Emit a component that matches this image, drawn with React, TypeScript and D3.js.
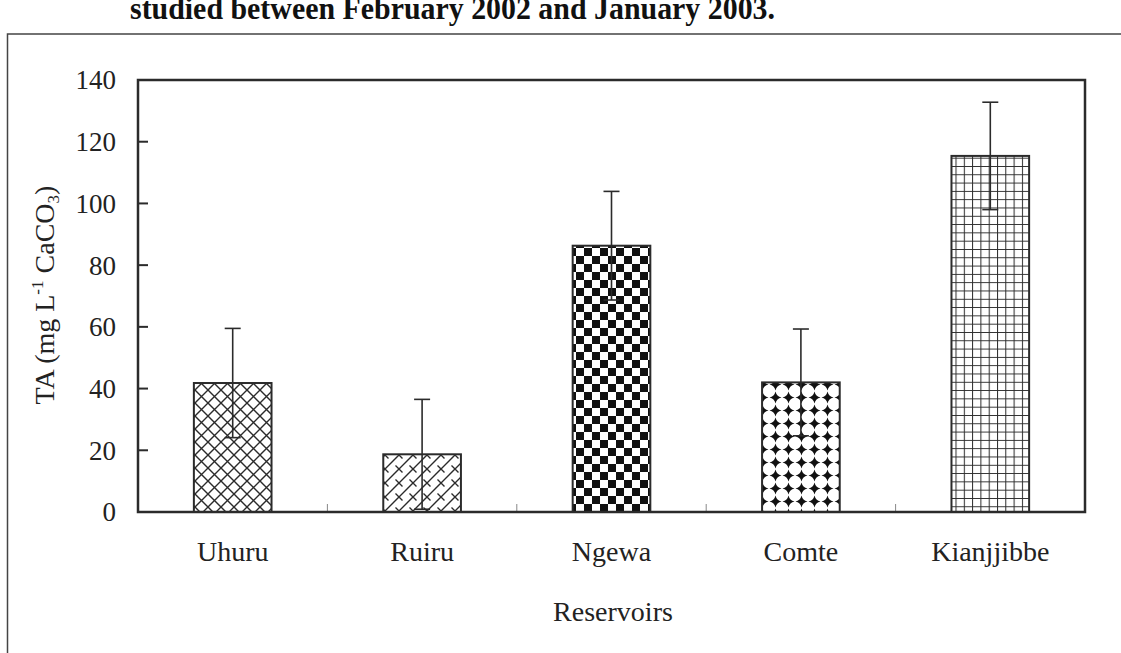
import React from "react";
import * as d3 from "d3";

// Total alkalinity per reservoir (mean and standard deviation)
const reservoirs = ["Uhuru", "Ruiru", "Ngewa", "Comte", "Kianjjibbe"];
const meanTA = [41.8, 18.7, 86.3, 42.0, 115.4];
const sdTA = [17.7, 17.8, 17.6, 17.3, 17.4];
const yTicks = [0, 20, 40, 60, 80, 100, 120, 140];
const patternIds = ["pDiamondHatch", "pBrick", "pChecker", "pDots", "pGrid"];

const W = 1121;
const H = 653;
const plot = { left: 138, right: 1085, top: 80, bottom: 512 };
const FONT = "'Liberation Serif', 'Times New Roman', serif";
const INK = "#2b2b2b";

export default function App() {
  const x = d3
    .scaleBand<string>()
    .domain(reservoirs)
    .range([plot.left, plot.right])
    .padding(0);
  const y = d3.scaleLinear().domain([0, 140]).range([plot.bottom, plot.top]);
  const barW = x.bandwidth() * 0.41;
  const capW = 16;

  return (
    <svg
      width={W}
      height={H}
      viewBox={`0 0 ${W} ${H}`}
      style={{ position: "absolute", left: 0, top: 0, background: "#fff" }}
      fontFamily={FONT}
    >
      <defs>
        {/* Uhuru: diagonal cross hatch */}
        <pattern id="pDiamondHatch" patternUnits="userSpaceOnUse" width="13" height="13">
          <rect width="13" height="13" fill="#fff" />
          <path d="M0,0 L13,13 M13,0 L0,13" stroke={INK} strokeWidth="1.4" />
        </pattern>
        {/* Ruiru: diagonal brick */}
        <pattern id="pBrick" patternUnits="userSpaceOnUse" width="14" height="14">
          <rect width="14" height="14" fill="#fff" />
          <path
            d="M0,14 L14,0 M-7,7 L7,-7 M7,21 L21,7 M3.5,3.5 L10.5,10.5"
            stroke={INK}
            strokeWidth="1.4"
          />
        </pattern>
        {/* Ngewa: checkerboard */}
        <pattern id="pChecker" patternUnits="userSpaceOnUse" width="16" height="16">
          <rect width="16" height="16" fill="#fff" />
          <rect x="0" y="0" width="8" height="8" fill="#111" />
          <rect x="8" y="8" width="8" height="8" fill="#111" />
        </pattern>
        {/* Comte: dark diamonds on white */}
        <pattern id="pDots" patternUnits="userSpaceOnUse" width="13" height="13" x="2" y="1">
          <rect width="13" height="13" fill="#fff" />
          <path
            d="M6.5,0.5 Q7.6,5.4 12.5,6.5 Q7.6,7.6 6.5,12.5 Q5.4,7.6 0.5,6.5 Q5.4,5.4 6.5,0.5 Z"
            fill="#111"
          />
        </pattern>
        {/* Kianjjibbe: square grid */}
        <pattern id="pGrid" patternUnits="userSpaceOnUse" width="8.3" height="8.3" x="1" y="0">
          <rect width="8.3" height="8.3" fill="#fff" />
          <path d="M0,0 H8.3 M0,0 V8.3" stroke={INK} strokeWidth="2" />
        </pattern>
      </defs>

      {/* outer frame */}
      <rect x={7.5} y={34} width={1130} height={700} fill="none" stroke="#444" strokeWidth={1.5} />

      {/* caption */}
      <text
        x={130}
        y={19}
        fontSize={31}
        fontWeight="bold"
        fill="#111"
        textLength={645}
        lengthAdjust="spacingAndGlyphs"
      >
        studied between February 2002 and January 2003.
      </text>

      {/* bars */}
      {reservoirs.map((r, i) => {
        const cx = (x(r) as number) + x.bandwidth() / 2;
        return (
          <rect
            key={r}
            x={cx - barW / 2}
            y={y(meanTA[i])}
            width={barW}
            height={y(0) - y(meanTA[i])}
            fill={`url(#${patternIds[i]})`}
            stroke={INK}
            strokeWidth={2}
          />
        );
      })}

      {/* error bars */}
      {reservoirs.map((r, i) => {
        const cx = (x(r) as number) + x.bandwidth() / 2;
        const hi = y(meanTA[i] + sdTA[i]);
        const lo = y(meanTA[i] - sdTA[i]);
        return (
          <g key={r} stroke={INK} strokeWidth={1.6}>
            <line x1={cx} x2={cx} y1={hi} y2={lo} />
            <line x1={cx - capW / 2} x2={cx + capW / 2} y1={hi} y2={hi} />
            <line x1={cx - capW / 2} x2={cx + capW / 2} y1={lo} y2={lo} />
          </g>
        );
      })}

      {/* category separators on x axis */}
      {reservoirs.slice(1).map((r) => (
        <line
          key={r}
          x1={x(r) as number}
          x2={x(r) as number}
          y1={y(0)}
          y2={y(0) - 8}
          stroke="#888"
          strokeWidth={1}
        />
      ))}

      {/* y ticks */}
      {yTicks.map((t) => (
        <g key={t}>
          <line x1={plot.left} x2={plot.left + 10} y1={y(t)} y2={y(t)} stroke={INK} strokeWidth={2} />
          <text x={116} y={y(t)} dy="0.35em" textAnchor="end" fontSize={27} fill="#222">
            {t}
          </text>
        </g>
      ))}

      {/* plot frame */}
      <rect
        x={plot.left}
        y={plot.top}
        width={plot.right - plot.left}
        height={plot.bottom - plot.top}
        fill="none"
        stroke={INK}
        strokeWidth={2.5}
      />

      {/* category labels */}
      {reservoirs.map((r) => (
        <text
          key={r}
          x={(x(r) as number) + x.bandwidth() / 2}
          y={561}
          textAnchor="middle"
          fontSize={28}
          fill="#222"
        >
          {r}
        </text>
      ))}

      <text x={613} y={621} textAnchor="middle" fontSize={28} fill="#222">
        Reservoirs
      </text>

      <text
        transform={`translate(54, ${(plot.top + plot.bottom) / 2 - 1}) rotate(-90)`}
        textAnchor="middle"
        fontSize={28}
        fill="#222"
      >
        TA (mg L
        <tspan dy={-11} fontSize={17}>-1</tspan>
        <tspan dy={11}> CaCO</tspan>
        <tspan dy={5} fontSize={17}>3</tspan>
        <tspan dy={-5}>)</tspan>
      </text>
    </svg>
  );
}
